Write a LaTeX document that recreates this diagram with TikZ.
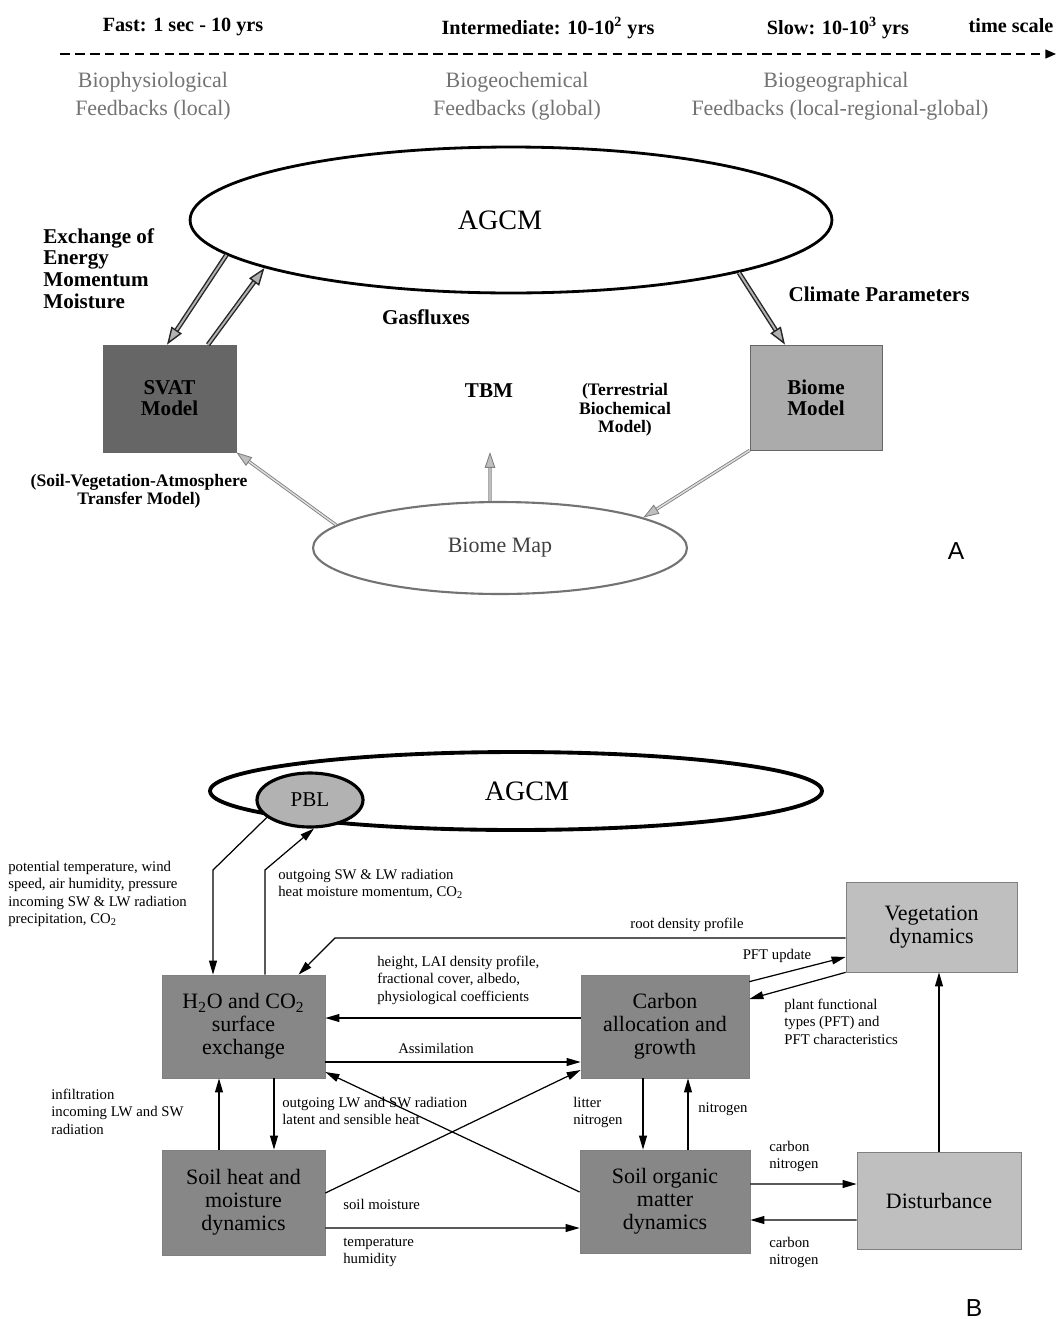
\documentclass[tikz,border=0pt]{standalone}
\usepackage{fontspec}
\setmainfont{Liberation Serif}
\setsansfont{Liberation Sans}
\usetikzlibrary{shapes.geometric,arrows.meta}

\begin{document}
\begin{tikzpicture}[x=0.02cm, y=-0.02cm, inner sep=0pt,
    head/.style={font=\bfseries\fontsize{11.5}{13}\selectfont},
    feed/.style={text=black!55, font=\fontsize{12.5}{14}\selectfont},
    bold label/.style={font=\bfseries\fontsize{12}{12.3}\selectfont, align=left},
    small bold/.style={font=\bfseries\fontsize{10}{10.4}\selectfont, align=center},
    a box/.style={rectangle, draw=black!60, align=center, font=\bfseries\fontsize{12}{12}\selectfont},
    b box/.style={rectangle, draw=black!50, align=center, font=\fontsize{12.5}{13}\selectfont},
    dark fill/.style={fill=black!47},
    light fill/.style={fill=black!25},
    tiny label/.style={font=\fontsize{8.4}{9.8}\selectfont, align=left, anchor=north west},
    panel/.style={font=\sffamily\fontsize{14}{14}\selectfont},
    fat arrow/.style={draw=black!85, double=black!30, double distance=1.1pt, line width=0.8pt,
                      -{Triangle[length=10pt,width=7pt,fill=black!30]}},
    gray arrow/.style={draw=black!50, double=black!12, double distance=0.8pt, line width=0.5pt,
                       -{Triangle[length=9pt,width=6pt,fill=black!25]}},
    thin arrow/.style={line width=0.7pt, -{Triangle[length=8pt,width=4.5pt]}}]

  \useasboundingbox (0,0) rectangle (1060,1319);

  % time scale
  \node[head] (fast) at (183,27) {Fast: 1 sec - 10 yrs};
  \node[head] (inter) at (548,28) {Intermediate: 10-10\textsuperscript{2} yrs};
  \node[head] (slow) at (838,28) {Slow: 10-10\textsuperscript{3} yrs};
  \node[head] (tscale) at (1011,26) {time scale};
  \coordinate (tstart) at (60,54);
  \coordinate (tend) at (1056,54);
  \draw[line width=0.9pt, dash pattern=on 5.5pt off 3pt, -{Triangle[length=6pt,width=5pt]}] (tstart) -- (tend);

  \node[feed] (bphys) at (153,82) {Biophysiological};
  \node[feed] (fblocal) at (153,110) {Feedbacks (local)};
  \node[feed] (bchem) at (517,82) {Biogeochemical};
  \node[feed] (fbglobal) at (517,110) {Feedbacks (global)};
  \node[feed] (bgeo) at (836,82) {Biogeographical};
  \node[feed] (fbregion) at (840,110) {Feedbacks (local-regional-global)};

  % part A
  \node[ellipse, draw, line width=1.6pt, minimum width=12.84cm, minimum height=2.92cm,
        font=\fontsize{16}{16}\selectfont] (agcmA) at (511,220) {AGCM\kern0.44cm};
  \node[a box, fill=black!60, minimum width=2.66cm, minimum height=2.14cm] (svat) at (169.5,398.5) {SVAT\\Model};
  \node[a box, fill=black!33, minimum width=2.64cm, minimum height=2.1cm] (biome) at (816,397.5) {Biome\\Model};
  \node[ellipse, draw=black!55, line width=1.2pt, minimum width=7.48cm, minimum height=1.84cm,
        text=black!75, font=\fontsize{12.5}{13}\selectfont] (bmap) at (500,548) {Biome Map};

  \node[bold label, anchor=north west] (exch) at (43,228) {Exchange of\\Energy\\Momentum\\Moisture};
  \node[bold label] (gasflux) at (426,317) {Gasfluxes};
  \node[bold label] (tbm) at (489,391) {TBM};
  \node[small bold] (tbmname) at (625,410) {(Terrestrial\\Biochemical\\Model)};
  \node[bold label] (climpar) at (879,294) {Climate Parameters};
  \node[small bold] (svatname) at (139,491) {(Soil-Vegetation-Atmosphere\\Transfer Model)};
  \node[panel] (labA) at (956,551) {A};
  \coordinate (tbmtip) at (490,452);

  \draw[fat arrow] (agcmA.187) -- ([xshift=-0.05cm]svat.north);
  \draw[fat arrow] ([xshift=0.77cm]svat.north) -- (agcmA.191);
  \draw[fat arrow] (agcmA.347) -- ([xshift=-0.62cm]biome.north);
  \draw[gray arrow] (bmap.172) -- (svat.south east);
  \draw[gray arrow] ([xshift=-0.2cm]bmap.north) -- (tbmtip);
  \draw[gray arrow] (biome.south west) -- (bmap.12);

  % part B
  \node[ellipse, draw, line width=2.2pt, minimum width=12.24cm, minimum height=1.56cm,
        font=\fontsize{16}{16}\selectfont] (agcmB) at (516,791) {\kern0.44cm AGCM};
  \node[ellipse, draw, line width=1.8pt, fill=black!30, minimum width=2.12cm, minimum height=1.08cm,
        font=\fontsize{12}{12}\selectfont] (pbl) at (310,800) {PBL};

  \node[b box, dark fill, minimum width=3.26cm, minimum height=2.06cm] (h2o) at (243.5,1026.5)
       {H\textsubscript{2}O and CO\textsubscript{2}\\surface\\exchange};
  \node[b box, dark fill, minimum width=3.36cm, minimum height=2.06cm] (carbon) at (665,1026.5)
       {Carbon\\allocation and\\growth};
  \node[b box, light fill, minimum width=3.42cm, minimum height=1.8cm] (veg) at (931.5,927) {Vegetation\\dynamics};
  \node[b box, dark fill, minimum width=3.26cm, minimum height=2.1cm] (soilheat) at (243.5,1202.5)
       {Soil heat and\\moisture\\dynamics};
  \node[b box, dark fill, minimum width=3.4cm, minimum height=2.06cm] (soilorg) at (665,1201.5)
       {Soil organic\\matter\\dynamics};
  \node[b box, light fill, minimum width=3.28cm, minimum height=1.94cm] (dist) at (939,1201) {Disturbance};

  \node[tiny label] (atmin) at (8,861) {potential temperature, wind\\speed, air humidity, pressure\\incoming SW \& LW radiation\\precipitation, CO\textsubscript{2}};
  \node[tiny label] (atmout) at (278,869) {outgoing SW \& LW radiation\\heat moisture momentum, CO\textsubscript{2}};
  \node[tiny label] (vegstruct) at (377,956) {height, LAI density profile,\\fractional cover, albedo,\\physiological coefficients};
  \node[tiny label, anchor=center] (rootlab) at (687,925) {root density profile};
  \node[tiny label, anchor=center] (pftlab) at (777,956) {PFT update};
  \node[tiny label] (pftchar) at (784,999) {plant functional\\types (PFT) and\\PFT characteristics};
  \node[tiny label, anchor=center] (assimlab) at (436,1048) {Assimilation};
  \node[tiny label] (infil) at (51,1089) {infiltration\\incoming LW and SW\\radiation};
  \node[tiny label] (outlw) at (282,1097) {outgoing LW and SW radiation\\latent and sensible heat};
  \node[tiny label] (litter) at (573,1097) {litter\\nitrogen};
  \node[tiny label, anchor=west] (nitro) at (698,1109) {nitrogen};
  \node[tiny label] (cnout) at (769,1141) {carbon\\nitrogen};
  \node[tiny label] (cnin) at (769,1237) {carbon\\nitrogen};
  \node[tiny label, anchor=west] (soilmoist) at (343,1204) {soil moisture};
  \node[tiny label] (temphum) at (343,1238) {temperature\\humidity};
  \node[panel] (labB) at (974,1308) {B};

  \coordinate (pbldown) at (213,870);
  \coordinate (pblup) at (265,870);
  \coordinate (rootbend) at (335,938);

  \draw[thin arrow] (pbl.202) -- (pbldown) -- (pbldown |- h2o.north);
  \draw[thin arrow] (pblup |- h2o.north) -- (pblup) -- (pbl.278);
  \draw[thin arrow] (veg.west |- rootbend) -- (rootbend) -- ([xshift=1.1cm]h2o.north);
  \draw[thin arrow] ([yshift=-0.14cm]carbon.north east) -- ([yshift=-0.6cm]veg.west);
  \draw[thin arrow] (veg.south west) -- ([yshift=0.55cm]carbon.east);
  \draw[thin arrow] ([yshift=0.17cm]carbon.west) -- ([yshift=0.17cm]h2o.east);
  \draw[thin arrow] ([yshift=-0.71cm]h2o.east) -- ([yshift=-0.71cm]carbon.west);
  \draw[thin arrow] ([xshift=-0.49cm]soilheat.north) -- ([xshift=-0.49cm]h2o.south);
  \draw[thin arrow] ([xshift=0.61cm]h2o.south) -- ([xshift=0.61cm]soilheat.north);
  \draw[thin arrow] ([yshift=0.19cm]soilheat.east) -- ([yshift=-0.87cm]carbon.west);
  \draw[thin arrow] ([yshift=0.19cm]soilorg.west) -- ([yshift=-0.91cm]h2o.east);
  \draw[thin arrow] ([yshift=-0.51cm]soilheat.east) -- ([yshift=-0.53cm]soilorg.west);
  \draw[thin arrow] ([xshift=-0.44cm]carbon.south) -- ([xshift=-0.44cm]soilorg.north);
  \draw[thin arrow] ([xshift=0.46cm]soilorg.north) -- ([xshift=0.46cm]carbon.south);
  \draw[thin arrow] ([yshift=0.35cm]soilorg.east) -- ([yshift=0.34cm]dist.west);
  \draw[thin arrow] ([yshift=-0.38cm]dist.west) -- ([yshift=-0.37cm]soilorg.east);
  \draw[thin arrow] (dist.north) -- (dist.north |- veg.south);
\end{tikzpicture}
\end{document}
